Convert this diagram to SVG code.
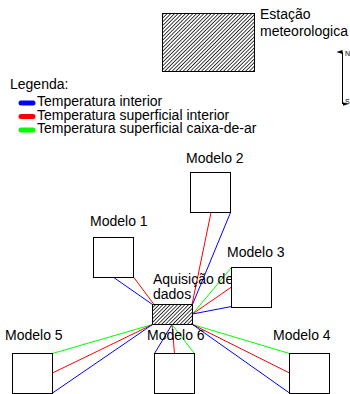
<svg xmlns="http://www.w3.org/2000/svg" width="350" height="394" viewBox="0 0 350 394">
<style>
text{font-family:"Liberation Sans",Arial,sans-serif;font-size:14px;fill:#000}
.small{font-size:7px}
.box{fill:#fff;stroke:#000;stroke-width:1}
.hatch{fill:url(#hatch);stroke:#000;stroke-width:1}
.b{stroke:#0000ff;stroke-width:1;fill:none}
.r{stroke:#ff0000;stroke-width:1;fill:none}
.g{stroke:#00ff00;stroke-width:1;fill:none}
.pill{stroke-width:5;stroke-linecap:round}
</style>
<defs>
<pattern id="hatch" patternUnits="userSpaceOnUse" width="2.6" height="2.6" patternTransform="rotate(45)">
<rect width="2.6" height="2.6" fill="#fff"/>
<line x1="0" y1="0" x2="0" y2="2.6" stroke="#000" stroke-width="1.5"/>
</pattern>
<marker id="ah" markerWidth="4" markerHeight="6" refX="2" refY="6" orient="auto-start-reverse" markerUnits="userSpaceOnUse">
<path d="M0,6 L2,0 L4,6 Z" fill="#000"/>
</marker>
</defs>

<g id="estacao">
<rect class="hatch" x="162.5" y="13.5" width="92" height="58"/>
<text x="260" y="19">Estação</text>
<text x="260" y="36">meteorologica</text>
</g>

<g id="compass">
<line x1="342.5" y1="52" x2="342.5" y2="104" stroke="#000" stroke-width="1" marker-start="url(#ah)" marker-end="url(#ah)"/>
<text class="small" x="345" y="56">N</text>
<text class="small" x="345" y="104">S</text>
</g>

<g id="legenda">
<text x="10" y="89">Legenda:</text>
<line class="b pill" x1="21" y1="103" x2="33" y2="103"/>
<text x="37" y="106">Temperatura interior</text>
<line class="r pill" x1="21" y1="116.5" x2="33" y2="116.5"/>
<text x="37" y="119.5">Temperatura superficial interior</text>
<line class="g pill" x1="21" y1="130" x2="33" y2="130"/>
<text x="37" y="133">Temperatura superficial caixa-de-ar</text>
</g>

<g id="connectors">
<line class="b" x1="113" y1="277" x2="152.5" y2="304.5"/>
<line class="r" x1="133.5" y1="277" x2="154" y2="304.5"/>
<line class="r" x1="211" y1="212.5" x2="192" y2="304.5"/>
<line class="b" x1="230.5" y1="212.5" x2="192.5" y2="304.5"/>
<line class="g" x1="231.5" y1="267.5" x2="192.5" y2="314"/>
<line class="r" x1="231.5" y1="287" x2="192.5" y2="314"/>
<line class="b" x1="231.5" y1="306.5" x2="192.5" y2="314"/>
<line class="g" x1="52.5" y1="353.5" x2="152.5" y2="324.5"/>
<line class="r" x1="52.5" y1="373" x2="152.5" y2="324.5"/>
<line class="b" x1="52.5" y1="393" x2="152.5" y2="324.5"/>
<line class="b" x1="154.5" y1="353.5" x2="172" y2="324.5"/>
<line class="r" x1="174.5" y1="353.5" x2="172" y2="324.5"/>
<line class="g" x1="194.5" y1="353.5" x2="172" y2="324.5"/>
<line class="g" x1="289.5" y1="353.5" x2="192.5" y2="324.5"/>
<line class="r" x1="289.5" y1="373" x2="192.5" y2="324.5"/>
<line class="b" x1="289.5" y1="393" x2="192.5" y2="324.5"/>
</g>

<g id="aquisicao">
<rect class="hatch" x="152.5" y="304.5" width="40" height="20"/>
<text x="153" y="284">Aquisição de</text>
<text x="153" y="299">dados</text>
</g>

<g id="modelo1">
<rect class="box" x="93.5" y="237.5" width="40" height="40"/>
<text x="90" y="226">Modelo 1</text>
</g>
<g id="modelo2">
<rect class="box" x="190.5" y="172.5" width="40" height="40"/>
<text x="186" y="163">Modelo 2</text>
</g>
<g id="modelo3">
<rect class="box" x="231.5" y="267.5" width="40" height="40"/>
<text x="227" y="257">Modelo 3</text>
</g>
<g id="modelo4">
<rect class="box" x="289.5" y="353.5" width="40" height="40"/>
<text x="273" y="340">Modelo 4</text>
</g>
<g id="modelo5">
<rect class="box" x="12.5" y="353.5" width="40" height="40"/>
<text x="5" y="340">Modelo 5</text>
</g>
<g id="modelo6">
<rect class="box" x="154.5" y="353.5" width="40" height="40"/>
<text x="147" y="340">Modelo 6</text>
</g>
</svg>
